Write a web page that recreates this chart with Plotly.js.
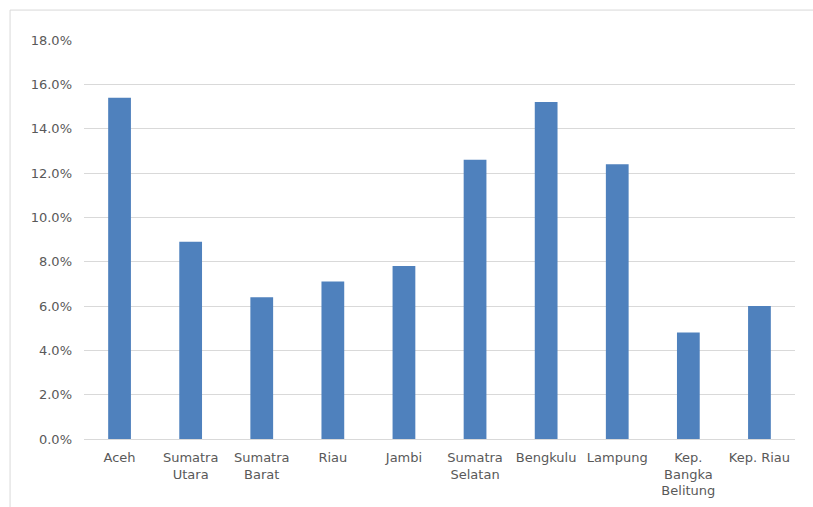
<!DOCTYPE html>
<html>
<head>
<meta charset="utf-8">
<script src="https://cdn.plot.ly/plotly-3.0.1.min.js"></script>
<style>html,body{margin:0;padding:0;background:#fff;}#chart{width:813px;height:507px;}</style>
</head>
<body>
<div id="chart"></div>
<script>
const categories = ["Aceh", "Sumatra<br>Utara", "Sumatra<br>Barat", "Riau", "Jambi", "Sumatra<br>Selatan", "Bengkulu", "Lampung", "Kep.<br>Bangka<br>Belitung", "Kep. Riau"];
const values = [0.154, 0.089, 0.064, 0.071, 0.078, 0.126, 0.152, 0.124, 0.048, 0.060];
const yTicks = [0, 0.02, 0.04, 0.06, 0.08, 0.10, 0.12, 0.14, 0.16, 0.18];
const yTickLabels = ["0.0%", "2.0%", "4.0%", "6.0%", "8.0%", "10.0%", "12.0%", "14.0%", "16.0%", "18.0%"];

const trace = {
  type: "bar",
  x: categories,
  y: values,
  marker: {color: "#4f81bd", line: {width: 0}},
  hoverinfo: "none"
};

const layout = {
  width: 813, height: 507,
  margin: {l: 84, r: 18, t: 40, b: 68},
  paper_bgcolor: "#ffffff",
  plot_bgcolor: "#ffffff",
  showlegend: false,
  bargap: 0.68,
  font: {family: "DejaVu Sans, Verdana, sans-serif", size: 13, color: "#595959"},
  xaxis: {
    type: "category",
    showgrid: false,
    showline: true,
    linecolor: "#d9d9d9",
    linewidth: 1,
    ticks: "",
    ticklabelstandoff: 6,
    tickfont: {size: 13, color: "#595959"},
    fixedrange: true
  },
  yaxis: {
    range: [0, 0.18],
    tickvals: yTicks,
    ticktext: yTickLabels,
    showgrid: true,
    gridcolor: "#d9d9d9",
    gridwidth: 1,
    zeroline: false,
    showline: false,
    ticks: "",
    ticklabelstandoff: 11,
    tickfont: {size: 13, color: "#595959"},
    fixedrange: true
  },
  shapes: [
    {type: "line", xref: "paper", yref: "paper", x0: -0.104, x1: -0.104, y0: 1.075, y1: -0.2, line: {color: "#d9d9d9", width: 1}},
    {type: "line", xref: "paper", yref: "paper", x0: -0.104, x1: 1.03, y0: 1.075, y1: 1.075, line: {color: "#d9d9d9", width: 1}}
  ]
};

Plotly.newPlot("chart", [trace], layout, {displayModeBar: false, staticPlot: true});
</script>
</body>
</html>
